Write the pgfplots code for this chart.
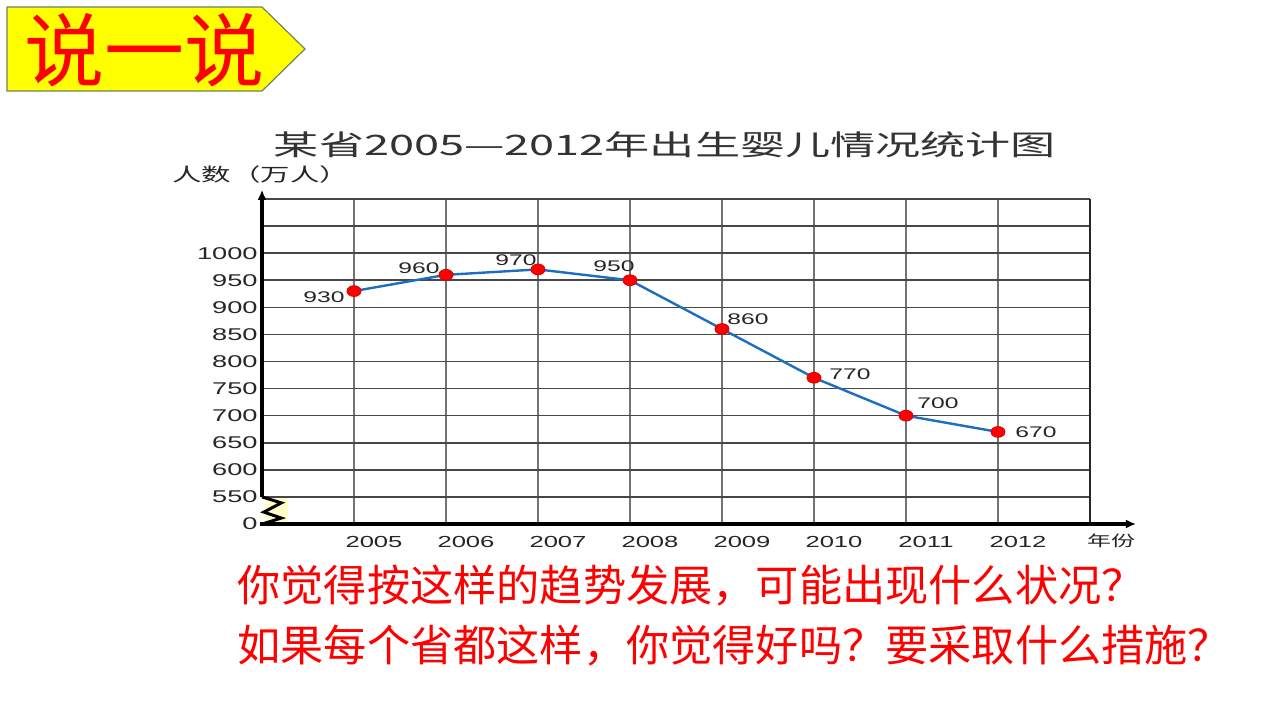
\documentclass[border=0pt]{standalone}
\usepackage{fontspec}
\setmainfont{Liberation Sans}
\newfontfamily\cjk{Noto Sans CJK SC}
\usepackage{graphicx}
\usepackage{pgfplots}
\pgfplotsset{compat=1.18}
\usepackage{pgfplotstable}
\usetikzlibrary{arrows.meta}
\definecolor{lineblue}{RGB}{31,110,190}
\definecolor{slideyellow}{RGB}{255,255,0}
\definecolor{paleyellow}{RGB}{255,255,204}
\definecolor{boxborder}{RGB}{110,130,100}
\newcommand\sx[1]{\scalebox{1.6}[1]{#1}}

\pgfplotstableread{
x y
2005 930
2006 960
2007 970
2008 950
2009 860
2010 770
2011 700
2012 670
}\births

\pgfplotsset{
  vlab/.style n args={3}{draw=none, mark=none, forget plot,
    point meta=explicit symbolic,
    nodes near coords={\sx{\pgfplotspointmeta}},
    every node near coord/.append style={font=\fontsize{7.7}{9}\selectfont, text=black!85, inner sep=0pt, anchor=#1, xshift=#2, yshift=#3}},
}

\begin{document}
\begin{tikzpicture}
\useasboundingbox (0,0) rectangle (640pt,360pt);
\fill[white] (0,0) rectangle (640pt,360pt);
% slide header
\filldraw[fill=slideyellow, draw=boxborder, line width=0.6pt]
  (3.5pt,356.5pt) -- (131pt,356.5pt) -- (152.5pt,335.5pt) -- (131pt,314.5pt) -- (3.5pt,314.5pt) -- cycle;
\node[text=red, font=\cjk\fontsize{40}{40}\selectfont, inner sep=0pt] at (72.5pt,335pt) {说一说};
% chart title and axis titles
\node[text=black!80, font=\cjk\fontsize{14.1}{15}\selectfont, inner sep=0pt] at (332.5pt,287.5pt) {\sx{某省2005—2012年出生婴儿情况统计图}};
\node[text=black!85, font=\cjk\fontsize{9.2}{10}\selectfont, inner sep=0pt, anchor=west] at (86pt,272.5pt) {\sx{人数（万人）}};
\node[text=black!85, font=\cjk\fontsize{7.5}{9}\selectfont, inner sep=0pt] at (555.5pt,89.5pt) {\sx{年份}};
% questions
\node[text=red, font=\cjk\fontsize{21.6}{24}\selectfont, inner sep=0pt, anchor=west] at (118.5pt,67pt) {你觉得按这样的趋势发展，可能出现什么状况？};
\node[text=red, font=\cjk\fontsize{21.6}{24}\selectfont, inner sep=0pt, anchor=west] at (118.5pt,37pt) {如果每个省都这样，你觉得好吗？要采取什么措施？};

\begin{axis}[
  at={(131pt,98pt)}, anchor=south west,
  scale only axis, width=414pt, height=162.5pt,
  xmin=2004, xmax=2013, ymin=500, ymax=1100,
  clip=false,
  axis line style={draw=none},
  major tick length=0pt,
  xtick={2005,2006,2007,2008,2009,2010,2011,2012},
  xticklabels={\sx{2005},\sx{2006},\sx{2007},\sx{2008},\sx{2009},\sx{2010},\sx{2011},\sx{2012}},
  ytick={500,550,600,650,700,750,800,850,900,950,1000,1050,1100},
  yticklabels={\sx{0},\sx{550},\sx{600},\sx{650},\sx{700},\sx{750},\sx{800},\sx{850},\sx{900},\sx{950},\sx{1000},{},{}},
  xticklabel style={font=\fontsize{8}{9}\selectfont, text=black!85, anchor=north, inner sep=0pt, xshift=10pt, yshift=-6pt},
  yticklabel style={font=\fontsize{8.5}{10}\selectfont, text=black!85, anchor=east, inner sep=0pt, xshift=-2pt},
  grid=major,
  x grid style={black!55, line width=1pt},
  y grid style={black!72, line width=0.8pt},
]
% break symbol background
\fill[paleyellow] (axis cs:2004.03,502) rectangle (axis cs:2004.28,548);
\addplot[color=lineblue, line width=1.2pt, mark=*,
  mark options={fill=red, draw=red!85!black, xscale=1.3, line width=0.4pt}, mark size=2.7pt]
  table[x=x, y=y] {\births};
% value labels
\addplot[vlab={east}{-4.5pt}{-3pt}] coordinates {(2005,930) [930]};
\addplot[vlab={east}{-3pt}{3.5pt}] coordinates {(2006,960) [960]};
\addplot[vlab={east}{-0.5pt}{4.75pt}] coordinates {(2007,970) [970]};
\addplot[vlab={east}{2.5pt}{7pt}] coordinates {(2008,950) [950]};
\addplot[vlab={west}{2.5pt}{5pt}] coordinates {(2009,860) [860]};
\addplot[vlab={west}{7.5pt}{1.75pt}] coordinates {(2010,770) [770]};
\addplot[vlab={west}{5.5pt}{6pt}] coordinates {(2011,700) [700]};
\addplot[vlab={west}{8.5pt}{0pt}] coordinates {(2012,670) [670]};
% right border
\draw[black!85, line width=1.1pt] (axis cs:2013,500) -- (axis cs:2013,1100);
% axes
\draw[black, line width=2pt, -{Latex[length=5pt,width=4.5pt]}] (axis cs:2004,550) -- (axis cs:2004,1117);
\draw[black, line width=2pt, -{Latex[length=5pt,width=4.5pt]}] (axis cs:2003.98,500) -- (axis cs:2013.5,500);
\draw[black, line width=1.5pt, line join=miter] (axis cs:2004,550) -- (axis cs:2004.21,539) -- (axis cs:2004.02,522) -- (axis cs:2004.21,511) -- (axis cs:2004.02,501);
\end{axis}
\end{tikzpicture}
\end{document}
